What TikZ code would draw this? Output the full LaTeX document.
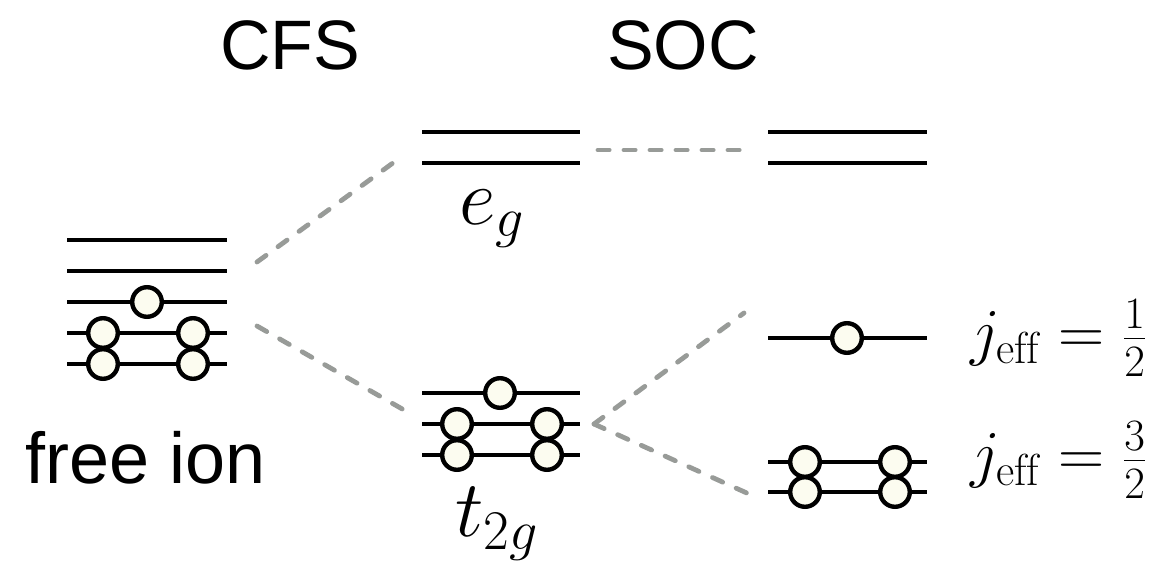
\documentclass[tikz,border=0pt]{standalone}
\usepackage{fix-cm}
\usepackage{fontspec}
\setsansfont{Liberation Sans}
\definecolor{efill}{RGB}{252,252,240}
\definecolor{dashgray}{RGB}{152,155,152}
\tikzset{
  level/.style={line width=2.2pt, line cap=butt},
  electron/.style={circle, draw=black, line width=2.2pt, fill=efill, minimum size=14.8pt, inner sep=0pt},
  split/.style={dashgray, line width=2.4pt, line cap=round, dash pattern=on 5.6pt off 7.4pt},
  head/.style={font=\sffamily\fontsize{35}{42}\selectfont, inner sep=0pt, anchor=base},
  orb/.style={font=\fontsize{40}{48}\selectfont, inner sep=0pt, anchor=base west},
  jlab/.style={font=\fontsize{32}{38}\selectfont, inner sep=0pt, anchor=base west}
}
\begin{document}
\begin{tikzpicture}[x={(0.5pt,0)}, y={(0,-0.5pt)}]
\useasboundingbox (0,0) rectangle (1174,572);
% headings
\node[head] (cfs) at (290,70) {CFS};
\node[head] (soc) at (683,70) {SOC};
\node[head, font=\sffamily\fontsize{36}{42}\selectfont] (free) at (146,484) {free ion};
% free ion levels
\foreach \y in {240,271,302,333,364} \draw[level] (67,\y) -- (227,\y);
\node[electron] (f1) at (147,302) {};
\node[electron] (f2) at (103,333) {};
\node[electron] (f3) at (193,333) {};
\node[electron] (f4) at (103,364) {};
\node[electron] (f5) at (193,364) {};
% eg levels (CFS)
\foreach \y in {132,163} \draw[level] (422,\y) -- (580,\y);
\node[orb] (eg) at (459,225) {$e_g$};
% t2g levels
\foreach \y in {393,424,455} \draw[level] (422,\y) -- (580,\y);
\node[electron] (t1) at (500,393) {};
\node[electron] (t2) at (457,424) {};
\node[electron] (t3) at (547,424) {};
\node[electron] (t4) at (457,455) {};
\node[electron] (t5) at (547,455) {};
\node[orb] (t2g) at (455,537) {$t_{2g}$};
% SOC levels
\foreach \y in {132,163} \draw[level] (768,\y) -- (927,\y);
\draw[level] (768,338) -- (927,338);
\node[electron] (j1) at (847,338) {};
\foreach \y in {462,492} \draw[level] (768,\y) -- (927,\y);
\node[electron] (j2) at (805,462) {};
\node[electron] (j3) at (895,462) {};
\node[electron] (j4) at (805,492) {};
\node[electron] (j5) at (895,492) {};
\node[jlab] (jhalf) at (970,354) {$j_{\mathrm{eff}}=\frac{1}{2}$};
\node[jlab] (jthree) at (970,476) {$j_{\mathrm{eff}}=\frac{3}{2}$};
% connector end points
\coordinate (fiT) at (257,262);
\coordinate (egL) at (397,160);
\coordinate (fiB) at (257,326);
\coordinate (t2L) at (404,410);
\coordinate (egR) at (598,150);
\coordinate (soL) at (746,150);
\coordinate (t2R) at (594,424);
\coordinate (jaL) at (744,313);
\coordinate (jbL) at (749,494);
\draw[split] (fiT) -- (egL);
\draw[split] (fiB) -- (t2L);
\draw[split] (egR) -- (soL);
\draw[split] (t2R) -- (jaL);
\draw[split] (t2R) -- (jbL);
\end{tikzpicture}
\end{document}
